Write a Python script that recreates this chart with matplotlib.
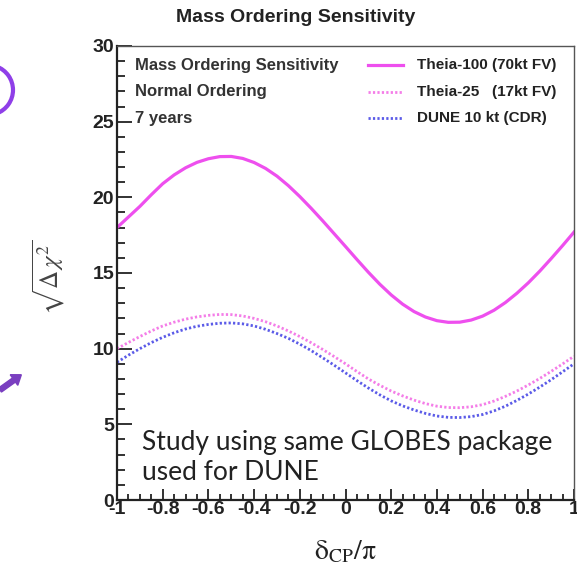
import numpy as np
import matplotlib.pyplot as plt
from matplotlib.patches import Arc, FancyArrow
from matplotlib.ticker import MultipleLocator

# delta_CP / pi
dcp = [-1.0, -0.95, -0.9, -0.85, -0.8, -0.75, -0.7, -0.65, -0.6, -0.55, -0.5,
       -0.45, -0.4, -0.35, -0.3, -0.25, -0.2, -0.15, -0.1, -0.05, 0.0,
       0.05, 0.1, 0.15, 0.2, 0.25, 0.3, 0.35, 0.4, 0.45, 0.5,
       0.55, 0.6, 0.65, 0.7, 0.75, 0.8, 0.85, 0.9, 0.95, 1.0]
theia100 = [18.0, 18.7, 19.4, 20.17, 20.9, 21.48, 21.95, 22.31, 22.55, 22.69, 22.7,
            22.57, 22.3, 21.91, 21.4, 20.77, 20.05, 19.27, 18.45, 17.6, 16.75,
            15.89, 15.05, 14.26, 13.55, 12.94, 12.45, 12.09, 11.85, 11.74, 11.75,
            11.89, 12.15, 12.54, 13.05, 13.66, 14.35, 15.12, 15.95, 16.81, 17.7]
theia25 = [10.0, 10.41, 10.8, 11.17, 11.5, 11.75, 11.95, 12.1, 12.2, 12.26, 12.25,
           12.16, 12.0, 11.78, 11.5, 11.17, 10.8, 10.39, 9.95, 9.48, 9.0,
           8.49, 8.0, 7.58, 7.2, 6.88, 6.6, 6.37, 6.2, 6.11, 6.1,
           6.16, 6.3, 6.54, 6.85, 7.2, 7.6, 8.03, 8.5, 8.99, 9.5]
dune = [9.1, 9.57, 10.0, 10.4, 10.75, 11.05, 11.3, 11.48, 11.6, 11.68, 11.7,
        11.64, 11.5, 11.28, 11.0, 10.68, 10.3, 9.87, 9.4, 8.91, 8.4,
        7.89, 7.4, 6.95, 6.55, 6.22, 5.95, 5.72, 5.55, 5.46, 5.45,
        5.51, 5.65, 5.89, 6.2, 6.58, 7.0, 7.46, 7.95, 8.47, 9.0]

series = [
    ("Theia-100 (70kt FV)", theia100, "#ee4fee", "-", 2.3),
    ("Theia-25   (17kt FV)", theia25, "#f47de8", (0, (0.8, 0.8)), 2.0),
    ("DUNE 10 kt (CDR)", dune, "#5b5be8", (0, (0.8, 0.8)), 2.0),
]
info = ["Mass Ordering Sensitivity", "Normal Ordering", "7 years"]

plt.rcParams['font.family'] = ['Liberation Sans', 'DejaVu Sans']
plt.rcParams['mathtext.fontset'] = 'stix'

fig = plt.figure(figsize=(5.77, 5.62), dpi=100)
ax = fig.add_axes([0.2028, 0.1103, 0.792, 0.8079])

for name, vals, col, ls, lw in series:
    ax.plot(dcp, vals, color=col, linestyle=ls, linewidth=lw)

ax.set_xlim(-1, 1)
ax.set_ylim(0, 30)
ax.xaxis.set_major_locator(MultipleLocator(0.2))
ax.xaxis.set_minor_locator(MultipleLocator(0.05))
ax.yaxis.set_major_locator(MultipleLocator(5))
ax.yaxis.set_minor_locator(MultipleLocator(1))
ax.tick_params(which='both', direction='in', width=1.3, color='#222222')
ax.tick_params(axis='y', which='major', length=11, pad=2)
ax.tick_params(axis='y', which='minor', length=6)
ax.tick_params(axis='x', which='major', length=8, pad=1)
ax.tick_params(axis='x', which='minor', length=4)
ax.set_xticks(np.round(np.arange(-1, 1.01, 0.2), 1))
ax.set_xticklabels(['-1', '-0.8', '-0.6', '-0.4', '-0.2', '0', '0.2', '0.4', '0.6', '0.8', '1'])
for lab in ax.get_xticklabels() + ax.get_yticklabels():
    lab.set_fontweight('bold')
    lab.set_fontsize(14)
    lab.set_color('#222222')
for s in ['left', 'bottom']:
    ax.spines[s].set_linewidth(1.6)
    ax.spines[s].set_color('#222222')
for s in ['top', 'right']:
    ax.spines[s].set_linewidth(1.0)
    ax.spines[s].set_color('#555555')

# legend-like text block
ys = [0.958, 0.899, 0.841]
for t, y in zip(info, ys):
    ax.text(0.039, y, t, transform=ax.transAxes, fontsize=12, fontweight='bold',
            color='#333333', va='center', ha='left')
for (name, vals, col, ls, lw), y in zip(series, ys):
    ax.plot([0.549, 0.626], [y, y], transform=ax.transAxes, color=col,
            linestyle=ls, linewidth=lw)
    ax.text(0.656, y, name, transform=ax.transAxes, fontsize=11, fontweight='bold',
            color='#222222', va='center', ha='left')

ax.text(0.055, 0.1256, "Study using same GLOBES package", transform=ax.transAxes,
        fontsize=19, family='Lato', color='#222222', va='center', ha='left')
ax.text(0.055, 0.0595, "used for DUNE", transform=ax.transAxes,
        fontsize=19, family='Lato', color='#222222', va='center', ha='left')

fig.text(0.513, 0.968, "Mass Ordering Sensitivity", fontsize=14, fontweight='bold',
         color='#222222', ha='center', va='center')
fig.text(0.085, 0.507, r'$\sqrt{\Delta\,\chi^2}$', rotation=90, fontsize=18,
         color='#444444', ha='center', va='center')
fig.text(0.598, 0.005, r'$\mathrm{\delta_{CP}/\pi}$', fontsize=20, color='#222222',
         ha='center', va='baseline')

# slide decorations at left edge
fig.patches.append(Arc((-12, 472), 50, 50, theta1=-70, theta2=70,
                       transform=None, color='#8f3fe8', linewidth=3))
fig.patches.append(FancyArrow(0, 172, 14, 10, width=5, head_width=13, head_length=9,
                              transform=None, color='#7a3fc0'))

fig.savefig("out.png", dpi=100)
